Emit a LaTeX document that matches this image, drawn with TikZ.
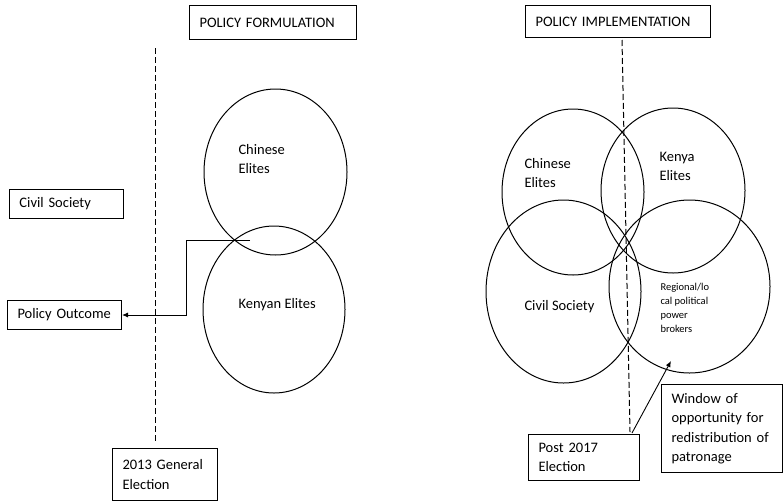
\documentclass[tikz,border=0pt]{standalone}
\usepackage{fontspec}
\setmainfont{Carlito}
\usetikzlibrary{arrows.meta,shapes.geometric}
\begin{document}
\begin{tikzpicture}[x=1pt,y=-1pt, line width=1pt,
  box/.style={draw, rectangle, anchor=north west, align=left, inner xsep=10pt, inner ysep=0pt, font=\fontsize{14.5}{19.5}\selectfont},
  oval/.style={draw, ellipse, inner sep=0pt},
  lab/.style={font=\fontsize{14.5}{19}\selectfont, align=left, inner sep=0pt},
  smalllab/.style={font=\fontsize{10.5}{14}\selectfont, align=left, inner sep=0pt},
  dashline/.style={dash pattern=on 6pt off 3pt},
  arr/.style={-{Latex[length=6pt,width=5pt]}, line width=0.9pt}]
\useasboundingbox (0,0) rectangle (783,501);

% ---------- left: policy formulation ----------
\node[box, text width=147pt, minimum height=34pt] (pf) at (189,5) {POLICY FORMULATION};
\node[box, text width=94pt, minimum height=29pt] (cs) at (9,189) {Civil Society};
\node[box, text width=94pt, minimum height=29pt] (po) at (7,300) {Policy Outcome};
\node[box, text width=85pt, minimum height=52pt] (e13) at (112,448) {2013 General\\Election};

\coordinate (d1top) at (155,48);
\coordinate (d1bot) at (155,443);
\draw[dashline] (d1top) -- (d1bot);

\node[oval, minimum width=143pt, minimum height=166pt] (ce1) at (275.5,172) {};
\node[oval, minimum width=142pt, minimum height=167pt] (ke1) at (274,309.5) {};
\node[lab, anchor=west] (tce1) at (238,159.5) {Chinese\\Elites};
\node[lab, anchor=base west] (tke1) at (238,308) {Kenyan Elites};

\coordinate (c1) at (250,240);
\draw[arr] (c1) -- (186,240) |- (po.east);

% ---------- right: policy implementation ----------
\node[box, text width=165pt, minimum height=32pt] (pi) at (525,5) {POLICY IMPLEMENTATION};

\node[oval, minimum width=142pt, minimum height=166pt] (ce2) at (573,192) {};
\node[oval, minimum width=144pt, minimum height=165pt] (ke2) at (673,190.5) {};
\node[oval, minimum width=155pt, minimum height=183pt] (cs2) at (563.5,291.5) {};
\node[oval, minimum width=161pt, minimum height=173pt] (rb2) at (689.5,286.5) {};

\coordinate (d2top) at (622,40);
\coordinate (d2bot) at (630,432);
\draw[dashline] (d2top) -- (d2bot);

\node[lab, anchor=west] (tce2) at (524,173.5) {Chinese\\Elites};
\node[lab, anchor=west] (tke2) at (659,166) {Kenya\\Elites};
\node[lab, anchor=base west] (tcs2) at (524,310) {Civil Society};
\node[smalllab, anchor=west] (trb2) at (660,308) {Regional/lo\\cal political\\power\\brokers};

\node[box, text width=91pt, minimum height=46pt] (p17) at (528,434) {Post 2017\\Election};
\node[box, text width=101pt, minimum height=88pt] (win) at (661,384) {Window of\\opportunity for\\redistribution of\\patronage};

\coordinate (a2s) at (632,433);
\coordinate (a2e) at (671,361);
\draw[arr] (a2s) -- (a2e);
\end{tikzpicture}
\end{document}
